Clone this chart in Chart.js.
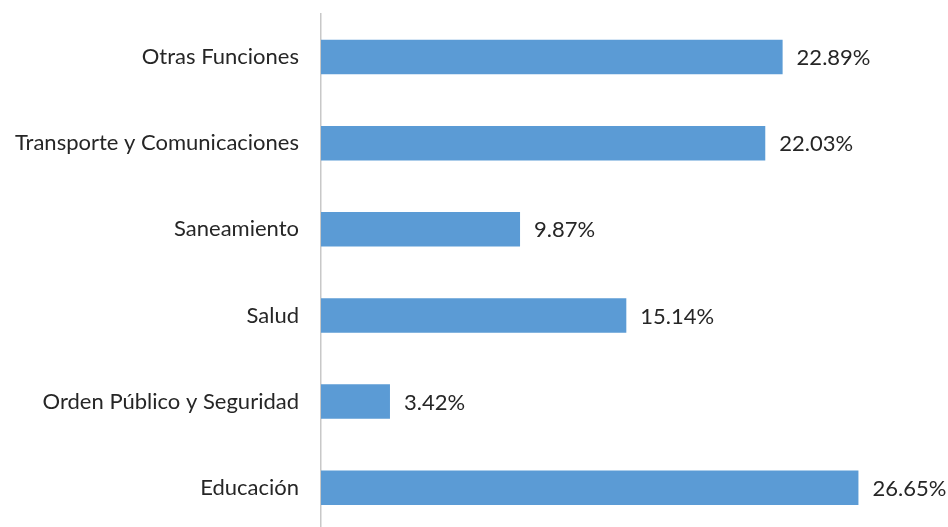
<!DOCTYPE html>
<html>
<head>
<meta charset="utf-8">
<script src="https://cdn.jsdelivr.net/npm/chart.js@4/dist/chart.umd.min.js"></script>
<style>
  html, body { margin: 0; padding: 0; background: #fff; overflow: hidden; }
  #wrap { width: 948px; height: 544px; position: relative; }
</style>
</head>
<body>
<div id="wrap"><canvas id="myChart"></canvas></div>
<script>
var categorias = ["Otras Funciones", "Transporte y Comunicaciones", "Saneamiento", "Salud", "Orden Público y Seguridad", "Educación"];
var porcentajes = [22.89, 22.03, 9.87, 15.14, 3.42, 26.65];

// etiquetas de valor al final de cada barra
var etiquetasValor = {
    id: "etiquetasValor",
    afterDatasetsDraw: function (chart) {
        var ctx = chart.ctx;
        var meta = chart.getDatasetMeta(0);
        ctx.save();
        ctx.font = "22px Lato";
        ctx.fillStyle = "#262626";
        ctx.textAlign = "left";
        ctx.textBaseline = "middle";
        meta.data.forEach(function (bar, i) {
            ctx.fillText(porcentajes[i].toFixed(2) + "%", bar.x + 14, bar.y + 1);
        });
        ctx.restore();
    }
};

var ctx = document.getElementById("myChart").getContext("2d");
var myChart = new Chart(ctx, {
    type: "bar",
    data: {
        labels: categorias,
        datasets: [
            {
                data: porcentajes,
                backgroundColor: "#5B9BD5",
                categoryPercentage: 0.4,
                barPercentage: 1,
            },
        ],
    },
    options: {
        indexAxis: "y",
        responsive: true,
        maintainAspectRatio: false,
        animation: false,
        layout: { padding: { top: 14, right: 22, bottom: 2, left: 0 } },
        plugins: {
            legend: { display: false },
            tooltip: { enabled: false },
        },
        scales: {
            x: {
                display: false,
                min: 0,
                max: 30,
            },
            y: {
                afterFit: function (s) { s.width = 321; },
                grid: { display: false, drawTicks: true, tickLength: 22 },
                border: { display: true, color: "#C8C8C8", width: 1.5 },
                ticks: {
                    padding: 0,
                    color: "#262626",
                    font: { family: "Lato", size: 22 },
                },
            },
        },
    },
    plugins: [etiquetasValor],
});
</script>
</body>
</html>
